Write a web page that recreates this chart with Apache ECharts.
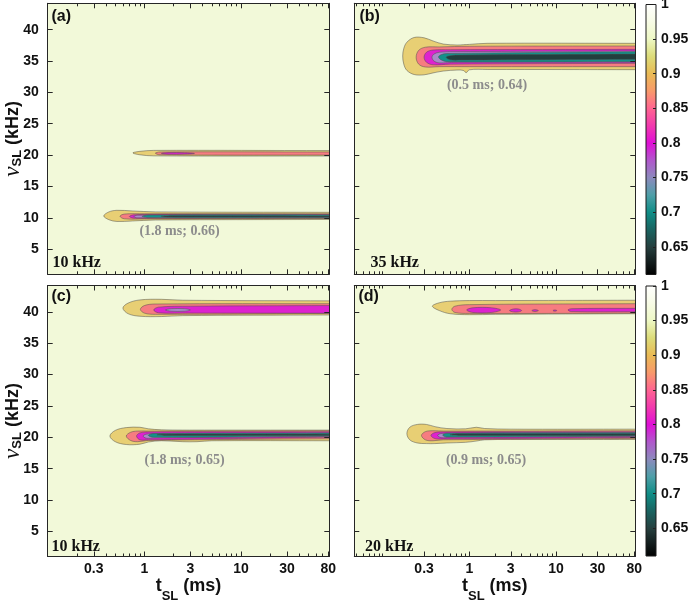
<!DOCTYPE html>
<html><head><meta charset="utf-8">
<script src="https://cdn.jsdelivr.net/npm/echarts@6/dist/echarts.min.js"></script>
<style>html,body{margin:0;padding:0;background:#fff}#c{width:689px;height:602px}</style>
</head><body><div id="c"></div>
<script>
// ---------------- DATA ----------------
const xMajorTicks = [0.3, 1, 3, 10, 30, 80];
const xMinorTicks = [0.05,0.06,0.07,0.08,0.09,0.1,0.2,0.4,0.5,0.6,0.7,0.8,0.9,2,4,5,6,7,8,9,20,40,50,60,70];
const yTicks = [5, 10, 15, 20, 25, 30, 35, 40];
const cbTicks = [0.65, 0.7, 0.75, 0.8, 0.85, 0.9, 0.95, 1];
const xMinPanel = [0.1, 0.047, 0.1, 0.047];
const xMax = 82;
const yMin = 1, yMax = 44.2;
const cbMin = 0.61, cbMax = 1;
const panelTags = ['(a)', '(b)', '(c)', '(d)'];
const fieldLabels = ['10 kHz', '35 kHz', '10 kHz', '20 kHz'];
const minimaNotes = ['(1.8 ms; 0.66)', '(0.5 ms; 0.64)', '(1.8 ms; 0.65)', '(0.9 ms; 0.65)'];

// contour bands: [level, profile [[t (ms), upper nu (kHz), lower nu (kHz)], ...]]
const bandsA = [
  [0.90, [[0.38,10.3,10.3],[0.43,10.95,9.7],[0.52,11.2,9.42],[0.75,11.1,9.5],[1.3,10.95,9.65],[82,10.88,9.74]]],
  [0.85, [[0.56,10.25,10.25],[0.62,10.6,9.85],[1.0,10.65,9.82],[82,10.64,9.9]]],
  [0.80, [[0.70,10.22,10.22],[0.78,10.48,9.95],[1.2,10.55,9.96],[82,10.55,9.98]]],
  [0.75, [[0.78,10.22,10.22],[0.85,10.42,10.0],[82,10.5,10.02]]],
  [0.70, [[0.95,10.24,10.24],[1.1,10.45,10.04],[82,10.47,10.05]]],
  [0.65, [[1.5,10.23,10.23],[2.0,10.32,10.13],[82,10.3,10.15]]],
  [0.90, [[0.76,20.35,20.35],[0.9,20.6,20.05],[1.25,20.75,19.88],[82,20.72,19.85]]],
  [0.85, [[1.3,20.3,20.3],[1.45,20.5,20.05],[82,20.5,20.0]]],
  [0.80, [[1.5,20.27,20.27],[1.8,20.4,20.14],[2.6,20.38,20.16],[3.3,20.27,20.27]]]
];
const bandsB = [
  [0.90, [[0.17,35.8,35.8],[0.175,37.0,34.5],[0.19,38.0,33.5],[0.23,38.75,32.85],[0.3,38.7,32.8],[0.38,38.2,33.1],[0.5,37.7,33.4],[0.72,37.55,33.56],[0.85,37.6,33.5],[0.92,37.62,33.15],[1.0,37.65,33.6],[1.6,37.82,33.65],[82,37.82,33.62]]],
  [0.85, [[0.243,35.6,35.6],[0.26,36.7,34.5],[0.31,37.2,34.05],[0.45,37.25,34.1],[1.0,37.35,34.1],[82,37.4,34.1]]],
  [0.80, [[0.30,35.6,35.6],[0.32,36.4,34.8],[0.38,36.75,34.4],[0.6,36.8,34.5],[82,36.86,34.63]]],
  [0.75, [[0.37,35.6,35.6],[0.39,36.1,35.0],[0.45,36.4,34.7],[0.7,36.5,34.8],[82,36.6,34.8]]],
  [0.70, [[0.44,35.65,35.65],[0.47,36.0,35.2],[0.55,36.2,34.9],[82,36.48,34.9]]],
  [0.65, [[0.54,35.6,35.6],[0.6,35.85,35.2],[0.8,35.95,35.15],[82,36.1,35.27]]]
];
const bandsC = [
  [0.90, [[0.6,40.6,40.6],[0.68,41.4,39.7],[0.9,41.9,39.3],[1.5,42.0,39.25],[2.5,41.85,39.4],[82,41.75,39.5]]],
  [0.85, [[0.91,40.4,40.4],[1.0,41.0,39.8],[1.3,41.25,39.6],[82,41.3,39.75]]],
  [0.80, [[1.25,40.3,40.3],[1.4,40.75,39.85],[3,40.9,39.8],[82,41.0,39.78]]],
  [0.75, [[1.65,40.3,40.3],[1.9,40.5,40.1],[2.6,40.5,40.1],[3.0,40.3,40.3]]],
  [0.90, [[0.44,20.2,20.2],[0.5,21.1,19.3],[0.65,21.55,18.85],[0.9,21.6,18.9],[1.1,21.35,19.25],[1.5,21.2,19.45],[2.5,21.15,19.3],[3.5,21.15,19.3],[5,21.15,19.45],[82,21.15,19.45]]],
  [0.85, [[0.65,20.2,20.2],[0.72,20.8,19.5],[0.85,21.0,19.3],[1.1,21.0,19.5],[82,21.05,19.77]]],
  [0.80, [[0.83,20.2,20.2],[0.9,20.7,19.6],[1.1,20.85,19.6],[82,20.89,20.02]]],
  [0.75, [[0.97,20.2,20.2],[1.05,20.5,19.85],[1.3,20.6,19.9],[82,20.72,20.13]]],
  [0.70, [[1.1,20.3,20.3],[1.25,20.6,20.0],[82,20.67,20.19]]],
  [0.65, [[1.35,20.4,20.4],[1.6,20.5,20.3],[82,20.5,20.3]]]
];
const bandsD = [
  [0.90, [[0.374,40.9,40.9],[0.45,41.45,40.2],[0.6,41.7,39.7],[1.0,41.8,39.55],[2,41.8,39.6],[82,41.85,39.7]]],
  [0.85, [[0.627,40.4,40.4],[0.68,40.9,39.9],[1.0,41.15,39.75],[82,41.3,39.78]]],
  [0.80, [[0.93,40.3,40.3],[1.1,40.65,39.9],[1.8,40.65,39.9],[2.3,40.3,40.3]]],
  [0.80, [[2.9,40.2,40.2],[3.2,40.45,40.0],[3.7,40.45,40.0],[4.0,40.2,40.2]]],
  [0.80, [[5.25,40.2,40.2],[5.7,40.35,40.05],[6.25,40.2,40.2]]],
  [0.80, [[9.2,40.2,40.2],[9.7,40.3,40.1],[10.2,40.2,40.2]]],
  [0.80, [[13.7,40.3,40.3],[15,40.5,40.05],[82,40.56,40.02]]],
  [0.90, [[0.19,20.6,20.6],[0.205,21.6,19.6],[0.25,22.05,19.1],[0.32,22.05,19.0],[0.4,21.7,19.0],[0.55,21.4,19.1],[0.9,21.35,19.2],[1.2,21.6,19.4],[1.5,21.4,19.6],[3,21.3,19.65],[82,21.3,19.65]]],
  [0.85, [[0.28,20.3,20.3],[0.31,20.9,19.6],[0.38,21.05,19.45],[0.5,21.0,19.6],[82,21.04,19.82]]],
  [0.80, [[0.36,20.3,20.3],[0.4,20.75,19.8],[0.5,20.85,19.75],[82,20.88,19.98]]],
  [0.75, [[0.43,20.3,20.3],[0.47,20.6,19.95],[0.6,20.65,20.0],[82,20.75,20.12]]],
  [0.70, [[0.49,20.35,20.35],[0.55,20.65,20.05],[82,20.72,20.19]]],
  [0.65, [[0.6,20.4,20.4],[0.75,20.55,20.3],[82,20.56,20.3]]]
];
const allBands = [bandsA, bandsB, bandsC, bandsD];

// colormap (value -> colour)
const cmapValues = [0.61,0.63,0.65,0.675,0.70,0.725,0.75,0.775,0.80,0.825,0.85,0.875,0.90,0.925,0.95,0.975,1.0];
const cmapColors = ['#000000','#141f1f','#263f3e','#1a6360','#0f8d86','#4e9fa8','#8c8abd','#b057cc','#e00fd6','#f23aae','#ff6591','#f89a6a','#e9bb55','#dcdc7a','#eef8c6','#f7fbe6','#ffffff'];

// ---------------- STYLE / LAYOUT ----------------
const levelFill = {0.9:'#e8cf74', 0.85:'#f67c80', 0.8:'#de22cf', 0.75:'#a98ac8', 0.7:'#14918a', 0.65:'#223f3e'};
const FONT = 'Liberation Sans', SERIF = 'Liberation Serif';
const INK = '#111';
const grids = [
  {left:47.7, top:3.3, width:281.6, height:271},
  {left:354.3, top:3.3, width:281, height:271},
  {left:47.7, top:285.5, width:281.6, height:271},
  {left:354.3, top:285.5, width:281, height:271},
  {left:646, top:4.5, width:10, height:270},
  {left:646, top:286, width:10, height:270}
];
const tagPos = [[51.5,17],[359.5,17],[51.5,297],[358.5,297]];
const fieldPos = [[52.5,263.3],[370.5,263.3],[51.5,546.7],[365,546.7]];
const notePos = [[179.5,231.5],[487,85.5],[184.5,460],[486,460.5]];

const L10 = Math.log10;
const fmtX = v => {
  const t = Math.pow(10, v);
  let best = xMajorTicks[0];
  xMajorTicks.forEach(m => { if (Math.abs(Math.log(m / t)) < Math.abs(Math.log(best / t))) best = m; });
  return String(best);
};
const labelStyle = {color: INK, fontFamily: FONT, fontWeight: 'bold', fontSize: 14};
const lineCol = '#262626';

const xAxes = [], yAxes = [];
for (let i = 0; i < 4; i++) {
  const lo = L10(xMinPanel[i]), hi = L10(xMax);
  xAxes.push({type:'log', logBase:10, gridIndex:i, min:xMinPanel[i], max:xMax, show:false});
  const base = {type:'value', gridIndex:i, min:lo, max:hi, splitLine:{show:false}, z:10};
  ['bottom','top'].forEach(pos => {
    xAxes.push(Object.assign({}, base, {
      position: pos,
      axisLine: {show:true, onZero:false, lineStyle:{color:lineCol, width:1}},
      axisTick: {show:true, inside:true, length:5, customValues: xMajorTicks.map(L10), lineStyle:{color:lineCol}},
      axisLabel: Object.assign({show: pos === 'bottom' && i >= 2, customValues: xMajorTicks.map(L10), formatter: fmtX, margin: 6}, labelStyle),
      name: (pos === 'bottom' && i >= 2) ? '{t|t}{s|SL}{t| (ms)}' : '',
      nameLocation: 'middle', nameGap: 18.5, nameMoveOverlap: false,
      nameTextStyle: {rich: {
        t: {fontFamily:FONT, fontWeight:'bold', fontSize:18, lineHeight:22, color:INK},
        s: {fontFamily:FONT, fontWeight:'bold', fontSize:13, lineHeight:14, padding:[20,0,0,0], color:INK}
      }}
    }));
    xAxes.push(Object.assign({}, base, {
      position: pos,
      axisLine: {show:false, onZero:false},
      axisTick: {show:true, inside:true, length:3, customValues: xMinorTicks.map(L10), lineStyle:{color:lineCol}},
      axisLabel: {show:false}
    }));
  });
  ['left','right'].forEach(pos => {
    yAxes.push({
      type:'value', gridIndex:i, min:yMin, max:yMax, position:pos, z:10,
      splitLine:{show:false},
      axisLine:{show:true, onZero:false, lineStyle:{color:lineCol, width:1}},
      axisTick:{show:true, inside:true, length:5, customValues:yTicks, lineStyle:{color:lineCol}},
      axisLabel:Object.assign({show: pos === 'left' && i % 2 === 0, customValues:yTicks, margin:9}, labelStyle),
      name: (pos === 'left' && i % 2 === 0) ? '{n|ν}{s|SL}{m| (kHz)}' : '',
      nameLocation:'middle', nameGap:23, nameMoveOverlap: false,
      nameTextStyle:{rich:{
        n:{fontFamily:SERIF, fontStyle:'italic', fontSize:23, lineHeight:24, color:INK},
        s:{fontFamily:FONT, fontWeight:'bold', fontSize:13, lineHeight:14, padding:[10,0,0,0], color:INK},
        m:{fontFamily:FONT, fontWeight:'bold', fontSize:18, lineHeight:22, color:INK}
      }}
    });
  });
}
// colorbar axes
for (let k = 0; k < 2; k++) {
  xAxes.push({type:'value', gridIndex:4 + k, min:0, max:1, show:false});
  yAxes.push({
    type:'value', gridIndex:4 + k, min:cbMin, max:cbMax, position:'right', z:10,
    splitLine:{show:false},
    axisLine:{show:false, onZero:false},
    axisTick:{show:true, inside:true, length:3, customValues:cbTicks, lineStyle:{color:'#222'}},
    axisLabel:Object.assign({customValues:cbTicks, margin:5, formatter: v => String(+v.toFixed(2))}, labelStyle)
  });
}

function bandPolygon(api, prof) {
  const up = [], lo = [];
  prof.forEach(p => {
    up.push(api.coord([p[0], p[1]]));
    if (p[1] !== p[2]) lo.push(api.coord([p[0], p[2]]));
  });
  const last = prof[prof.length - 1];
  if (last[1] !== last[2]) {
    up.push(api.coord([last[0] * 1.6, last[1]]));
    lo.push(api.coord([last[0] * 1.6, last[2]]));
  }
  return up.concat(lo.reverse());
}

const series = [];
allBands.forEach((bands, i) => {
  series.push({
    type:'custom', xAxisIndex: 5 * i, yAxisIndex: 2 * i, clip: true, silent: true,
    data: bands.map(b => [b[1][0][0], b[1][0][1]]),
    renderItem: (params, api) => {
      const b = bands[params.dataIndex];
      return {
        type:'polygon',
        shape:{points: bandPolygon(api, b[1]), smooth: 0.35},
        style:{fill: levelFill[b[0]], stroke:'#4f4f4f', lineWidth:0.5}
      };
    }
  });
});
const cbStops = cmapValues.map((v, i) => ({offset: (v - cbMin) / (cbMax - cbMin), color: cmapColors[i]}));
for (let k = 0; k < 2; k++) {
  series.push({
    type:'custom', xAxisIndex: 20 + k, yAxisIndex: 8 + k, silent: true,
    data: [[0, cbMin]],
    renderItem: (params, api) => {
      const p0 = api.coord([0, cbMax]), p1 = api.coord([1, cbMin]);
      return {
        type:'rect',
        shape:{x:p0[0], y:p0[1], width:p1[0] - p0[0], height:p1[1] - p0[1]},
        style:{fill: new echarts.graphic.LinearGradient(0, 1, 0, 0, cbStops), stroke:'#1a1a1a', lineWidth:1}
      };
    }
  });
}

const graphic = [];
panelTags.forEach((t, i) => graphic.push({type:'text', x:tagPos[i][0], y:tagPos[i][1], z:100,
  style:{text:t, font:'bold 16px "Liberation Sans"', fill:INK, verticalAlign:'middle', textVerticalAlign:'middle'}}));
fieldLabels.forEach((t, i) => graphic.push({type:'text', x:fieldPos[i][0], y:fieldPos[i][1], z:100,
  style:{text:t, font:'bold 16px "Liberation Serif"', fill:INK, verticalAlign:'middle', textVerticalAlign:'middle'}}));
minimaNotes.forEach((t, i) => graphic.push({type:'text', x:notePos[i][0], y:notePos[i][1], z:100,
  style:{text:t, font:'bold 14px "Liberation Serif"', fill:'#8c8c8c', align:'center', textAlign:'center', verticalAlign:'middle', textVerticalAlign:'middle'}}));

const chart = echarts.init(document.getElementById('c'), null, {renderer:'canvas', width:689, height:602});
chart.setOption({
  animation:false,
  backgroundColor:'#ffffff',
  grid: grids.map((g, i) => Object.assign({show: i < 4, backgroundColor:'#f2f9d9', borderWidth:0, containLabel:false, outerBoundsMode:'none'}, g)),
  xAxis: xAxes,
  yAxis: yAxes,
  series: series,
  graphic: graphic
});
</script></body></html>
